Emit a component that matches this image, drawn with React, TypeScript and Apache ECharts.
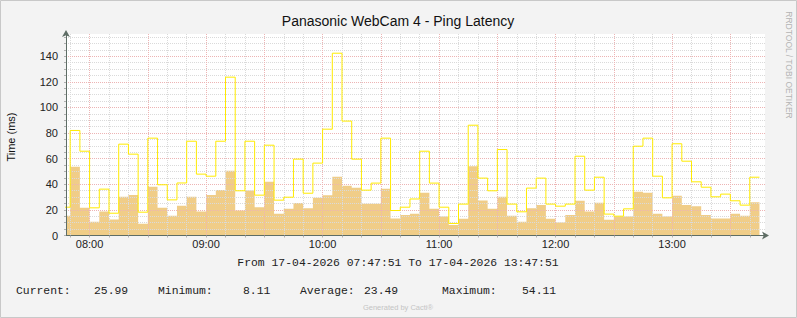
import React, { useEffect, useRef } from "react";
import * as echarts from "echarts";

const TITLE = "Panasonic WebCam 4 - Ping Latency";
const Y_NAME = "Time (ms)";
const TIME_RANGE = "From 17-04-2026 07:47:51 To 17-04-2026 13:47:51";
const WATERMARK = "RRDTOOL / TOBI OETIKER";
const FOOTER = "Generated by Cacti\u00AE";

// minutes since midnight
const FIRST_STEP_START = 465; // 07:45
const STEP_MIN = 5;
const X_MIN = 467 + 51 / 60; // 07:47:51
const X_MAX = X_MIN + 360; // 13:47:51
const Y_MAX = 157.3;

const avgValues = [
  15.4, 53.6, 21.6, 10.7, 18.7, 12.5, 30.2, 31.7, 9.1, 38,
  21.6, 15.4, 23.3, 30.2, 18.7, 31.7, 35.6, 50.5, 19.5, 35.1,
  22.1, 41.9, 16.9, 20.8, 25.3, 21.3, 29.4, 31.5, 45.8, 38.8,
  37.2, 24.7, 24.7, 36.4, 13.3, 16.1, 16.9, 33.3, 20.8, 14.8,
  8.11, 13, 54.11, 27.3, 20.8, 30.2, 15.4, 10.8, 21.3, 23.9,
  13, 10.1, 16.1, 27.1, 18.7, 25.5, 12.2, 14.8, 14.8, 34.1,
  33.3, 16.9, 14.8, 31, 23.9, 22.9, 16.1, 13.3, 13.3, 16.9,
  15.4, 25.99,
];

const maxValues = [
  22.1, 82, 65.8, 21.6, 36.2, 17.4, 71.3, 63.5, 18.2, 76,
  39.6, 27.8, 41, 73.6, 47.9, 46.3, 73.6, 123.6, 34.9, 73.6,
  31.5, 70.5, 27.6, 29.9, 59.6, 33, 56.5, 83, 142.3, 89.3,
  59.6, 35.4, 40.9, 76, 19.5, 22.1, 28.5, 65.8, 40.9, 22.1,
  9.4, 24.5, 86.1, 44.8, 34.9, 67.1, 24.5, 18.5, 37, 44.8,
  24.5, 22.9, 24.5, 61.9, 35.4, 45.5, 16.7, 15.1, 20.8, 69.7,
  76, 46.3, 29.4, 71.6, 58, 41.9, 37.7, 30.2, 32.3, 27.1,
  23.7, 45.5,
];

const hourTickValues = [480, 540, 600, 660, 720, 780];
const hourTickLabels = ["08:00", "09:00", "10:00", "11:00", "12:00", "13:00"];
const majorXValues = [480, 510, 540, 570, 600, 630, 660, 690, 720, 750, 780, 810];
const minorXValues = [
  470, 490, 500, 520, 530, 550, 560, 580, 590, 610, 620, 640, 650, 670, 680,
  700, 710, 730, 740, 760, 770, 790, 800, 820,
];
const allXTickValues = [
  470, 480, 490, 500, 510, 520, 530, 540, 550, 560, 570, 580, 590, 600, 610,
  620, 630, 640, 650, 660, 670, 680, 690, 700, 710, 720, 730, 740, 750, 760,
  770, 780, 790, 800, 810, 820,
];

const yLabelValues = [0, 20, 40, 60, 80, 100, 120, 140];
const majorYValues = [20, 40, 60, 80, 100, 120, 140];
const minorYValues = [
  5, 10, 15, 25, 30, 35, 45, 50, 55, 65, 70, 75, 85, 90, 95, 105, 110, 115,
  125, 130, 135, 145, 150, 155,
];
const allYTickValues = [
  0, 5, 10, 15, 20, 25, 30, 35, 40, 45, 50, 55, 60, 65, 70, 75, 80, 85, 90, 95,
  100, 105, 110, 115, 120, 125, 130, 135, 140, 145, 150, 155,
];

const statLabels = ["Current:", "Minimum:", "Average:", "Maximum:"];
const statValues = ["25.99", "8.11", "23.49", "54.11"];

const FILL_COLOR = "#F0CD88";
const LINE_COLOR = "#FFEB00";
const MINOR_GRID = "#DADADA";
const MAJOR_GRID = "#EDB4B4";
const AXIS_COLOR = "#5E6D65";
const SANS = "'Liberation Sans', Arial, sans-serif";
const MONO = "'Liberation Mono', 'Courier New', monospace";

function toSteps(vals: number[]) {
  const pts: number[][] = vals.map((v, i) => [FIRST_STEP_START + i * STEP_MIN, v]);
  pts.push([FIRST_STEP_START + vals.length * STEP_MIN, vals[vals.length - 1]]);
  return pts;
}

function fmtTime(v: number) {
  const idx = hourTickValues.indexOf(Math.round(v));
  if (idx >= 0) return hourTickLabels[idx];
  const h = Math.floor(v / 60);
  const m = Math.round(v % 60);
  return String(h).padStart(2, "0") + ":" + String(m).padStart(2, "0");
}

export default function App() {
  const ref = useRef<HTMLDivElement>(null);
  useEffect(() => {
    const chart = echarts.init(ref.current!, null, { renderer: "svg" });
    const hiddenX = (values: number[], color: string, z: number) => ({
      type: "value",
      min: X_MIN,
      max: X_MAX,
      z,
      axisLine: { show: false },
      axisTick: { show: false, customValues: values },
      axisLabel: { show: false },
      splitLine: { show: true, lineStyle: { color, width: 1, type: [1, 1] } },
    });
    const hiddenY = (values: number[], color: string, z: number) => ({
      type: "value",
      min: 0,
      max: Y_MAX,
      z,
      axisLine: { show: false },
      axisTick: { show: false, customValues: values },
      axisLabel: { show: false },
      splitLine: { show: true, lineStyle: { color, width: 1, type: [1, 1] } },
    });
    const statX = [16, 158, 300, 442];
    const valX = [94, 243, 364, 522];
    const graphics: any[] = [
      {
        type: "rect",
        shape: { x: 0.5, y: 0.5, width: 796, height: 317 },
        style: { fill: "none", stroke: "#C8C8C8", lineWidth: 1 },
        silent: true,
      },
      {
        type: "text",
        x: 398,
        y: 21,
        style: { text: TITLE, fill: "#111", font: `14px ${SANS}`, align: "center", verticalAlign: "middle" },
      },
      {
        type: "text",
        x: 11,
        y: 137,
        rotation: Math.PI / 2,
        style: { text: Y_NAME, fill: "#111", font: `11px ${SANS}`, align: "center", verticalAlign: "middle" },
      },
      {
        type: "text",
        x: 789,
        y: 65,
        rotation: -Math.PI / 2,
        style: { text: WATERMARK, fill: "#B4B4B4", font: `8.5px ${SANS}`, align: "center", verticalAlign: "middle" },
      },
      {
        type: "text",
        x: 398,
        y: 263,
        style: { text: TIME_RANGE, fill: "#222", font: `11.4px ${MONO}`, align: "center", verticalAlign: "middle" },
      },
      {
        type: "text",
        x: 398,
        y: 307,
        style: { text: FOOTER, fill: "#C4C4C4", font: `7.5px ${SANS}`, align: "center", verticalAlign: "middle" },
      },
    ];
    statLabels.forEach((s, i) => {
      graphics.push({
        type: "text",
        x: statX[i],
        y: 291,
        style: { text: s, fill: "#222", font: `11.4px ${MONO}`, align: "left", verticalAlign: "middle" },
      });
      graphics.push({
        type: "text",
        x: valX[i],
        y: 291,
        style: { text: statValues[i], fill: "#222", font: `11.4px ${MONO}`, align: "left", verticalAlign: "middle" },
      });
    });

    chart.setOption({
      animation: false,
      backgroundColor: "#F3F3F3",
      grid: {
        left: 66,
        top: 34,
        width: 699,
        height: 201.5,
        show: true,
        backgroundColor: "#FFFFFF",
        borderWidth: 0,
        z: 0,
      },
      xAxis: [
        {
          type: "value",
          min: X_MIN,
          max: X_MAX,
          position: "bottom",
          z: 4,
          axisLine: {
            show: true,
            lineStyle: { color: AXIS_COLOR, width: 1 },
            symbol: ["none", "arrow"],
            symbolSize: [6, 7],
            symbolOffset: [0, 4],
          },
          axisTick: { show: true, customValues: allXTickValues, length: 2, lineStyle: { color: "#B0B0B0" } },
          axisLabel: {
            customValues: hourTickValues,
            formatter: (v: number) => fmtTime(v),
            color: "#222",
            fontSize: 11,
            fontFamily: SANS,
            margin: 3,
          },
          splitLine: { show: false },
        },
        hiddenX(minorXValues, MINOR_GRID, 1.5),
        hiddenX(majorXValues, MAJOR_GRID, 1.6),
      ],
      yAxis: [
        {
          type: "value",
          min: 0,
          max: Y_MAX,
          z: 4,
          axisLine: {
            show: true,
            lineStyle: { color: AXIS_COLOR, width: 1 },
            symbol: ["none", "arrow"],
            symbolSize: [6, 7],
            symbolOffset: [0, 4],
          },
          axisTick: { show: true, customValues: allYTickValues, length: 2, lineStyle: { color: "#B0B0B0" } },
          axisLabel: {
            customValues: yLabelValues,
            color: "#222",
            fontSize: 11,
            fontFamily: SANS,
            margin: 8,
          },
          splitLine: { show: false },
        },
        hiddenY(minorYValues, MINOR_GRID, 1.5),
        hiddenY(majorYValues, MAJOR_GRID, 1.6),
      ],
      series: [
        {
          type: "line",
          name: "avg",
          step: "end",
          xAxisIndex: 0,
          yAxisIndex: 0,
          data: toSteps(avgValues),
          showSymbol: false,
          symbol: "none",
          lineStyle: { width: 0, color: FILL_COLOR },
          areaStyle: { color: FILL_COLOR, opacity: 1 },
          z: 1,
          silent: true,
        },
        {
          type: "line",
          name: "max",
          step: "end",
          xAxisIndex: 0,
          yAxisIndex: 0,
          data: toSteps(maxValues),
          showSymbol: false,
          symbol: "none",
          lineStyle: { width: 1, color: LINE_COLOR },
          z: 3,
          silent: true,
        },
      ],
      graphic: graphics,
    });
    return () => chart.dispose();
  }, []);
  return (
    <div
      ref={ref}
      style={{ position: "fixed", left: 0, top: 0, width: 797, height: 318 }}
    />
  );
}
